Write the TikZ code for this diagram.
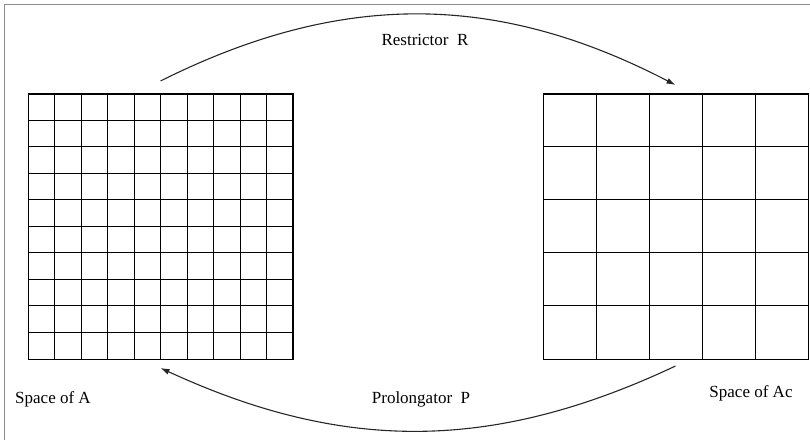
\documentclass[tikz,border=0pt]{standalone}
\usepackage{fontspec}
\setmainfont{Liberation Serif}
\usetikzlibrary{arrows.meta,positioning,calc}
\definecolor{frameg}{HTML}{8C8C8C}

\begin{document}
\begin{tikzpicture}[
  x=1pt,y=1pt,
  space/.style={draw=black,line width=1pt,inner sep=0pt,outer sep=0pt,minimum width=265pt,minimum height=265pt},
  lbl/.style={inner sep=0pt,font=\fontsize{17}{20}\selectfont},
  arr/.style={-{Latex[length=9pt,width=6pt]},line width=1.1pt,draw=black!85}
]
\useasboundingbox (0,0) rectangle (810,439);
\draw[frameg,line width=1pt] (4,-5) -- (4,434.5) -- (815,434.5);
% the two spaces
\node[space] (fine) at (160.5,212.5) {};
\node[space] (coarse) at (675.5,212.5) {};
\draw[line width=1pt,shift={(fine.south west)}] (0,0) grid[step=26.5pt] (265,265);
\draw[line width=1pt,shift={(coarse.south west)}] (0,0) grid[step=53pt] (265,265);
% labels
\node[lbl] (restr) at (425,399) {Restrictor~~R};
\node[lbl] (prolong) at (421,40) {Prolongator~~P};
\node[lbl] (spA) at (53,40) {Space of A};
\node[lbl] (spAc) at (751,46) {Space of Ac};
% maps between the spaces
\coordinate (rs) at ([yshift=13pt]fine.north);
\coordinate (re) at ([yshift=9pt]coarse.north);
\coordinate (ps) at ([yshift=-7pt]coarse.south);
\coordinate (pe) at ([yshift=-9pt]fine.south);
\draw[arr] (rs) to[bend left=27] (re);
\draw[arr] (ps) to[bend left=25] (pe);
\end{tikzpicture}
\end{document}
